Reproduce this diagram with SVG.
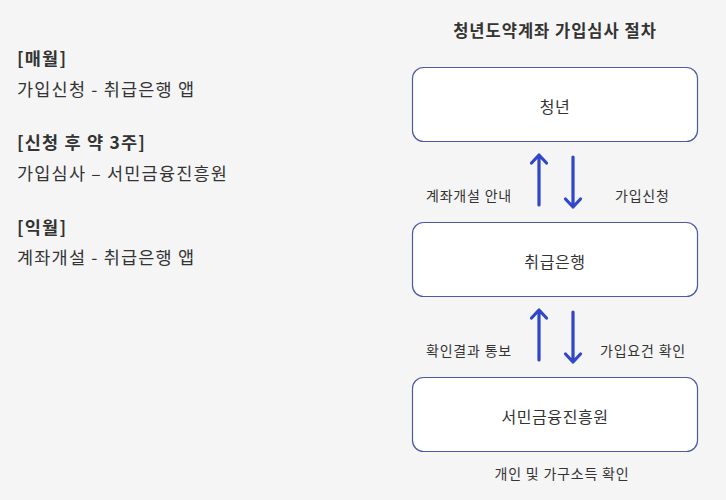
<svg xmlns="http://www.w3.org/2000/svg" width="726" height="500" viewBox="0 0 726 500">
<style>
text{font-family:"Noto Sans CJK KR","Noto Sans",sans-serif;fill:#333;}
.node{fill:#fff;stroke:#4a5aa5;stroke-width:1.2;}
.nt{font-size:16px;text-anchor:middle;letter-spacing:0.6px;}
.lbl{font-size:14px;letter-spacing:0.8px;}
.left{font-size:17.5px;letter-spacing:1.2px;}
.b{font-weight:bold;}
.arr{stroke:#2f47c8;stroke-width:3.2;fill:none;stroke-linecap:round;stroke-linejoin:round;}
</style>
<rect width="726" height="500" fill="#f5f5f5"/>
<g id="left-text">
<text class="left b" x="17" y="65">[매월]</text>
<text class="left" x="17" y="96">가입신청 - 취급은행 앱</text>
<text class="left b" x="17" y="149">[신청 후 약 3주]</text>
<text class="left" x="17" y="180">가입심사 – 서민금융진흥원</text>
<text class="left b" x="17" y="234">[익월]</text>
<text class="left" x="17" y="264">계좌개설 - 취급은행 앱</text>
</g>
<text class="b" x="555" y="37" font-size="16.5" letter-spacing="1" text-anchor="middle">청년도약계좌 가입심사 절차</text>
<g id="node-youth">
<rect class="node" x="412.5" y="67.5" width="285" height="74" rx="11"/>
<text class="nt" x="555" y="113">청년</text>
</g>
<g id="node-bank">
<rect class="node" x="412.5" y="222.5" width="285" height="74" rx="11"/>
<text class="nt" x="555" y="268">취급은행</text>
</g>
<g id="node-kinfa">
<rect class="node" x="412.5" y="377.5" width="285" height="74" rx="11"/>
<text class="nt" x="555" y="423">서민금융진흥원</text>
</g>
<g id="connectors">
<path class="arr" d="M539 205V155M531.5 163L539 155L546.5 163"/>
<path class="arr" d="M573 157V207M565.5 199L573 207L580.5 199"/>
<path class="arr" d="M539 360V310M531.5 318L539 310L546.5 318"/>
<path class="arr" d="M573 312V362M565.5 354L573 362L580.5 354"/>
<text class="lbl" x="426" y="201">계좌개설 안내</text>
<text class="lbl" x="615" y="201">가입신청</text>
<text class="lbl" x="426" y="356">확인결과 통보</text>
<text class="lbl" x="600" y="356">가입요건 확인</text>
</g>
<text class="lbl" x="562" y="479" text-anchor="middle">개인 및 가구소득 확인</text>
</svg>
